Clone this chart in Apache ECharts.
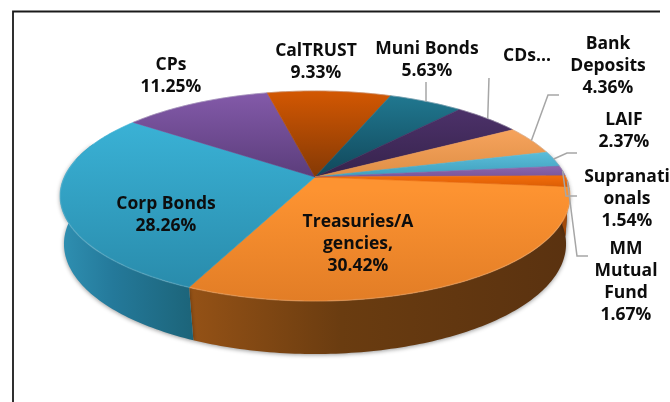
<!DOCTYPE html>
<html><head><meta charset="utf-8">
<style>html,body{margin:0;padding:0;background:#fff}#c{width:670px;height:402px}</style>
<script src="https://cdn.jsdelivr.net/npm/echarts@6/dist/echarts.min.js"></script>
</head><body><div id="c"></div>
<script>
// ---- data ----
const names = ['Treasuries/A\ngencies,','Corp Bonds','CPs','CalTRUST','Muni Bonds','CDs...','Bank\nDeposits','LAIF','Supranati\nonals','MM\nMutual\nFund'];
const values = [30.42,28.26,11.25,9.33,5.63,5.17,4.36,2.37,1.54,1.67];
const showPct = [true,true,true,true,true,false,true,true,true,true];

// ---- style / layout ----
const topColors = [['#FD9331','#E27D26',190,302],['#3AB2D6','#298BAB',120,290],['#8259A8','#5B3D7B',95,177],['#D25702','#843905',92,177],
 ['#20778F','#11475A',97,177],['#4C3169','#36234C',110,177],['#F6A35C','#DF8F46',130,177],['#5ABCD9','#3F9FBC',153,177],['#8E68B0','#7A5699',165,177],['#F06C0A','#D65903',177,190]];
const wallColors = [['#955216','#6A3C10','#5A3210'],['#2F90B2','#24799A','#1C6479'],['#6b4a8c','#5b3d7b','#5b3d7b'],['#8a3b05','#8a3b05','#8a3b05'],['#145466','#145466','#145466'],['#36234c','#36234c','#36234c'],['#a46a34','#a46a34','#a46a34'],['#2e7d94','#2e7d94','#2e7d94'],['#5b4272','#5b4272','#5b4272'],['#A44A08','#A44A08','#A44A08']];
const labelLayout = [[358,222],[166,204],[171,65],[316,51],[427,49],[527,56],[608,44],[624,120],[627,177],[626,249]];
const leaders = {4:[[426,82]],5:[[489,78]],6:[[548,95],[559,95]],7:[[567,153],[577,153]],8:[[566,196],[577,196]],9:[[577,256],[588,256]]};
const startDeg = 5.3, centerX = 315;
const topFace = {ay:177, A:250.8, B:101.6, k:0.181};
const botFace = {ay:226.4, A:247.8, B:107.2, k:0.16};
const FONT = 'Open Sans', FS = 17.5, LH = 22;

const rad = d => d*Math.PI/180;
function pt(f, deg){ const u=Math.cos(rad(deg)), v=Math.sin(rad(deg)), w=1-f.k*v; return [centerX+f.A*u/w, f.ay+f.B*v/w]; }
const total = values.reduce((a,b)=>a+b,0);
const spans = []; { let a=startDeg; values.forEach(v=>{ const s=v/total*360; spans.push([a,a+s]); a+=s; }); }
function arc(f,a,b){ const out=[]; const n=Math.max(2,Math.ceil(Math.abs(b-a))); for(let i=0;i<=n;i++) out.push(pt(f,a+(b-a)*i/n)); return out; }
const LG = echarts.graphic.LinearGradient;
const seq = values.map((v,i)=>i);

function wallItem(p,api){
  const i=p.dataIndex; let [a,b]=spans[i];
  if(a>=330){a-=360;b-=360;}
  const lo=Math.max(a,-30), hi=Math.min(b,200);
  if(hi<=lo) return {type:'group',children:[]};
  const r=arc(topFace,lo,hi), s=arc(botFace,lo,hi).reverse();
  const xs=r.concat(s).map(q=>q[0]); const x0=Math.min(...xs), x1=Math.max(...xs);
  const c=wallColors[i];
  return {type:'polygon',shape:{points:r.concat(s)},style:{
    fill:new LG(x0,0,x1,0,[{offset:0,color:c[0]},{offset:0.4,color:c[1]},{offset:1,color:c[2]}],true),
    shadowColor:'rgba(0,0,0,0.4)',shadowBlur:4,shadowOffsetY:1}};
}
function topItem(p,api){
  const i=p.dataIndex, [a,b]=spans[i], c=topColors[i];
  const g=new LG(0,c[2],0,c[3],[{offset:0,color:c[0]},{offset:1,color:c[1]}],true);
  const kids=[{type:'polygon',shape:{points:[[centerX,topFace.ay]].concat(arc(topFace,a,b))},style:{fill:g,stroke:g,lineWidth:0.6}}];
  const hi=Math.min(b,190);
  if(a<190) kids.push({type:'polyline',shape:{points:arc(topFace,a,hi)},style:{fill:null,stroke:'rgba(255,255,255,0.12)',lineWidth:1.6}});
  else kids.push({type:'polyline',shape:{points:arc(topFace,a,b)},style:{fill:null,stroke:'rgba(190,190,200,0.5)',lineWidth:0.8}});
  return {type:'group',children:kids};
}
function lineItem(p,api){
  const i=p.dataIndex; if(!leaders[i]) return {type:'group',children:[]};
  const [a,b]=spans[i];
  return {type:'polyline',shape:{points:[pt(topFace,(a+b)/2)].concat(leaders[i])},style:{fill:null,stroke:'#A6A6A6',lineWidth:1.5}};
}
function labelItem(p,api){
  const i=p.dataIndex, t=names[i]+(showPct[i]?'\n'+values[i].toFixed(2)+'%':''), [x,y]=labelLayout[i];
  return {type:'text',style:{x:x,y:y-LH/2,text:t,fill:'#0d0d0d',fontFamily:FONT,fontSize:FS,fontWeight:'bold',lineHeight:LH,align:'center',verticalAlign:'top'}};
}
const mk=(fn,z)=>({type:'custom',coordinateSystem:'none',data:seq,renderItem:fn,z:z,silent:true,animation:false,clip:false});
const chart=echarts.init(document.getElementById('c'),null,{renderer:'canvas'});
chart.setOption({animation:false,backgroundColor:'#fff',
 graphic:[{type:'polyline',shape:{points:[[13,402],[13,11.5],[660,11.5]]},style:{fill:null,stroke:'#1a1a1a',lineWidth:1.8},z:1}],
 series:[mk(wallItem,2),mk(topItem,3),mk(lineItem,4),mk(labelItem,5)]});
</script></body></html>
